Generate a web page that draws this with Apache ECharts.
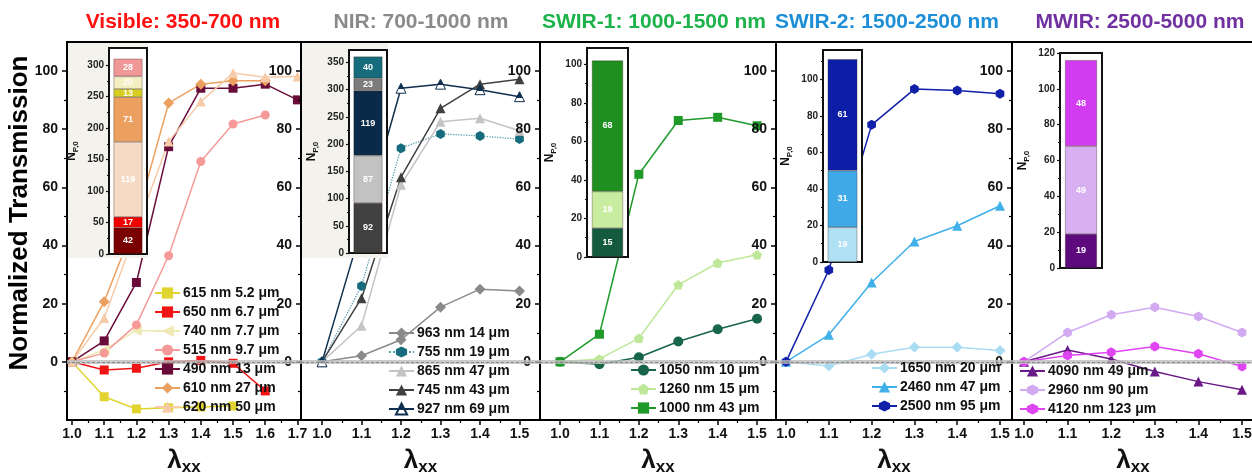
<!DOCTYPE html>
<html><head><meta charset="utf-8">
<script src="https://cdn.jsdelivr.net/npm/echarts@6/dist/echarts.min.js"></script>
<style>html,body{margin:0;padding:0;background:#fff}#c{width:1252px;height:473px}</style>
</head><body><div id="c"></div>
<script>
// ---------------- DATA ----------------
const lambdaVis = [1.0, 1.1, 1.2, 1.3, 1.4, 1.5, 1.6, 1.7];
const lambda = [1.0, 1.1, 1.2, 1.3, 1.4, 1.5];

// Visible
const vis615 = [0, -12, -16.2, -15.8, -15.5, -15.2, null, null];
const vis650 = [0, -2.8, -2.2, 0, 0.5, -0.5, -10, null];
const vis740 = [0, 4.1, 10.8, 10.4, null, null, null, null];
const vis515 = [0, 3, 12.7, 36.5, 68.9, 81.8, 84.9, null];
const vis490 = [0, 7.2, 27.3, 74, 94.1, 94.1, 95.5, 90.1];
const vis610 = [0, 20.7, 49, 89, 95.5, 96.7, 96.7, null];
const vis620 = [0, 15.1, 45.5, 75.8, 89.5, 99.3, 97.9, 98.1];
// NIR
const nir963 = [0, 2.1, 7.6, 18.8, 25, 24.4];
const nir755 = [0, 26.1, 73.5, 78.4, 77.7, 76.6];
const nir865 = [0, 12.4, 60.9, 82.6, 83.8, 79.5];
const nir745 = [0, 21.9, 63.5, 87.2, 95.5, 97.2];
const nir927 = [0, 46, 94.1, 95.5, 93.6, 91.2];
// SWIR-1
const sw1050 = [0, -0.8, 1.6, 7, 11.2, 14.8];
const sw1260 = [0, 1, 8.1, 26.5, 34, 36.8];
const sw1000 = [0, 9.5, 64.5, 83, 84.1, 81.2];
// SWIR-2
const sw1650 = [0, -1.4, 2.6, 5, 5, 3.9];
const sw2460 = [0, 9.3, 27.3, 41.4, 46.8, 53.7];
const sw2500 = [0, 31.6, 81.5, 93.8, 93.3, 92.2];
// MWIR
const mw4090 = [0, 4.1, 1, -3.3, -6.8, -9.6];
const mw2960 = [0, 10.1, 16.2, 18.8, 15.6, 10.1];
const mw4120 = [0, 2.2, 3.3, 5.3, 2.8, -1.6];

// inset stacked bars (N_P,0), bottom -> top
const insetVis = [42, 17, 119, 71, 13, 20, 28];
const insetNir = [92, 87, 119, 23, 40];
const insetSw1 = [15, 19, 68];
const insetSw2 = [19, 31, 61];
const insetMw = [19, 49, 48];

// tick labels
const xTicksVis = [1.0, 1.1, 1.2, 1.3, 1.4, 1.5, 1.6, 1.7];
const xMinorVis = [1.05, 1.15, 1.25, 1.35, 1.45, 1.55, 1.65];
const xTicks = [1.0, 1.1, 1.2, 1.3, 1.4, 1.5];
const xMinor = [1.05, 1.15, 1.25, 1.35, 1.45];
const yTicks = [0, 20, 40, 60, 80, 100];
const yMinor = [-10, 10, 30, 50, 70, 90];
const inTicksVis = [0, 50, 100, 150, 200, 250, 300];
const inMinorVis = [25, 75, 125, 175, 225, 275];
const inTicksNir = [0, 50, 100, 150, 200, 250, 300, 350];
const inMinorNir = [25, 75, 125, 175, 225, 275, 325];
const inTicks100 = [0, 20, 40, 60, 80, 100];
const inMinor100 = [10, 30, 50, 70, 90];
const inMinor110 = [10, 30, 50, 70, 90, 110];
const inTicks120 = [0, 20, 40, 60, 80, 100, 120];

const titles = ['Visible: 350-700 nm', 'NIR: 700-1000 nm', 'SWIR-1: 1000-1500 nm', 'SWIR-2: 1500-2500 nm', 'MWIR: 2500-5000 nm'];

// ---------------- STYLE / LAYOUT ----------------
const FONT = '"Liberation Sans", Arial, Helvetica, sans-serif';
const HEX = 'path://M0,-10 L8.66,-5 L8.66,5 L0,10 L-8.66,5 L-8.66,-5 Z';
const PENT = 'path://M0,-10 L9.51,-3.09 L5.88,8.09 L-5.88,8.09 L-9.51,-3.09 Z';
const LTRI = 'path://M-10,0 L8,-9 L8,9 Z';
const navyHalf = {type:'linear', x:0, y:0, x2:0, y2:1, colorStops:[
  {offset:0, color:'#0f2f4f'}, {offset:0.58, color:'#0f2f4f'},
  {offset:0.58, color:'#ffffff'}, {offset:1, color:'#ffffff'}]};

const panels = [
  { title: titles[0], tColor:'#ff1010', tX:183, left:67, width:234, xMin:0.9845, xMax:1.711,
    xMaj:xTicksVis, xMin2:xMinorVis, lam:lambdaVis, legend:{left:154, top:286},
    series:[
      {name:'615 nm 5.2 μm', d:vis615, c:'#e2d430', sym:'rect'},
      {name:'650 nm 6.7 μm', d:vis650, c:'#f01414', sym:'rect'},
      {name:'740 nm 7.7 μm', d:vis740, c:'#efe9b4', sym:LTRI, size:11},
      {name:'515 nm 9.7 μm', d:vis515, c:'#f59a98', sym:'circle'},
      {name:'490 nm 13 μm', d:vis490, c:'#6a0c3a', sym:'rect'},
      {name:'610 nm 27 μm', d:vis610, c:'#eca060', sym:'diamond', size:11},
      {name:'620 nm 50 μm', d:vis620, c:'#f5cba8', sym:'triangle', size:10}],
    inset:{left:109, top:48, width:38, height:206, max:327, maj:inTicksVis, min:inMinorVis, vals:insetVis,
      colors:['#7a0000','#f20000','#f7dac6','#eca060','#d8ce22','#f4efc2','#f09898']},
    beige:{x:68, y:43, w:80, h:215} },
  { title: titles[1], tColor:'#8a8a8a', tX:421, left:301, width:239, xMin:0.9468, xMax:1.5519,
    xMaj:xTicks, xMin2:xMinor, lam:lambda, legend:{left:388, top:326},
    series:[
      {name:'963 nm 14 μm', d:nir963, c:'#8a8a8a', sym:'diamond', size:11},
      {name:'755 nm 19 μm', d:nir755, c:'#166b7d', sym:HEX, size:10, line:{type:'dotted', color:'#5a9fb0', width:1.3}},
      {name:'865 nm 47 μm', d:nir865, c:'#c4c4c4', sym:'triangle', size:10},
      {name:'745 nm 43 μm', d:nir745, c:'#404040', sym:'triangle', size:10},
      {name:'927 nm 69 μm', d:nir927, c:navyHalf, lc:'#0f2f4f', sym:'triangle', size:10, border:'#0f2f4f'}],
    inset:{left:349, top:50, width:38, height:203, max:373, maj:inTicksNir, min:inMinorNir, vals:insetNir,
      colors:['#404040','#c2c2c2','#0a2a4a','#7c7c7c','#166b7d']},
    beige:{x:302, y:43, w:86, h:215} },
  { title: titles[2], tColor:'#1db34a', tX:654, left:540, width:236, xMin:0.9492, xMax:1.548,
    xMaj:xTicks, xMin2:xMinor, lam:lambda, legend:{left:630, top:363},
    series:[
      {name:'1050 nm 10 μm', d:sw1050, c:'#17654a', sym:'circle', size:10},
      {name:'1260 nm 15 μm', d:sw1260, c:'#bfe79a', sym:PENT, size:10},
      {name:'1000 nm 43 μm', d:sw1000, c:'#1f9a2a', sym:'rect'}],
    inset:{left:587, top:48, width:41, height:209, max:108.5, maj:inTicks100, min:inMinor100, vals:insetSw1,
      colors:['#145a3e','#c8eca0','#1f9020']} },
  { title: titles[3], tColor:'#1e8fd6', tX:887, left:776, width:236, xMin:0.9766, xMax:1.528,
    xMaj:xTicks, xMin2:xMinor, lam:lambda, legend:{left:871, top:361},
    series:[
      {name:'1650 nm 20 μm', d:sw1650, c:'#a9dcf2', sym:'diamond', size:11},
      {name:'2460 nm 47 μm', d:sw2460, c:'#3fb0ea', sym:'triangle', size:10},
      {name:'2500 nm 95 μm', d:sw2500, c:'#1020a8', sym:HEX, size:10}],
    inset:{left:823, top:50, width:39, height:212, max:116, maj:inTicks100, min:inMinor110, vals:insetSw2,
      colors:['#b0e0f4','#40aae8','#0c1ea8']} },
  { title: titles[4], tColor:'#7030a0', tX:1140, left:1012, width:242, xMin:0.9725, xMax:1.5275,
    xMaj:xTicks, xMin2:xMinor, lam:lambda, legend:{left:1019, top:364},
    series:[
      {name:'4090 nm 49 μm', d:mw4090, c:'#6a1a88', sym:'triangle', size:10},
      {name:'2960 nm 90 μm', d:mw2960, c:'#d2aaf2', sym:HEX, size:10},
      {name:'4120 nm 123 μm', d:mw4120, c:'#df45f2', sym:HEX, size:10}],
    inset:{left:1060, top:53, width:42, height:215, max:120, maj:inTicks120, min:inMinor110, vals:insetMw,
      colors:['#5c0a7c','#d8b0f2','#d23cf0']} }
];

// ---------------- BUILD ----------------
const grid = [], xAxis = [], yAxis = [], series = [], legend = [], graphic = [];

panels.forEach((p, pi) => {
  const gi = grid.length;
  grid.push({left:p.left, top:42, width:p.width, height:378, show:true, borderColor:'#000', borderWidth:2,
    containLabel:false, outerBoundsMode:'none', z:0});
  const xa = xAxis.length;
  xAxis.push({gridIndex:gi, type:'value', position:'bottom', min:p.xMin, max:p.xMax, z:3,
    axisLine:{show:true, onZero:false, lineStyle:{color:'#000', width:2}},
    axisTick:{show:true, customValues:p.xMaj, length:5, lineStyle:{color:'#000', width:1.5}},
    axisLabel:{customValues:p.xMaj, formatter:v => v.toFixed(1), color:'#111', fontSize:14, fontWeight:'bold', fontFamily:FONT, margin:7},
    splitLine:{show:false},
    name:'{l|λ}{s|xx}', nameLocation:'middle', nameGap:28,
    nameTextStyle:{color:'#111', fontFamily:FONT, rich:{
      l:{fontSize:26, fontWeight:'bold', fontFamily:FONT, color:'#111', verticalAlign:'bottom', padding:[0,0,2,0]},
      s:{fontSize:17, fontWeight:'bold', fontFamily:FONT, color:'#111', verticalAlign:'bottom'}}}});
  xAxis.push({gridIndex:gi, type:'value', position:'bottom', min:p.xMin, max:p.xMax, z:3,
    axisLine:{show:false, onZero:false}, axisLabel:{show:false}, splitLine:{show:false},
    axisTick:{show:true, customValues:p.xMin2, length:3, lineStyle:{color:'#000', width:1.2}}});
  const ya = yAxis.length;
  yAxis.push({gridIndex:gi, type:'value', position:'left', min:-20, max:110, z:3,
    axisLine:{show:true, onZero:false, lineStyle:{color:'#000', width:2}},
    axisTick:{show:true, customValues:yTicks, length:5, lineStyle:{color:'#000', width:1.5}},
    axisLabel:{customValues:yTicks, color:'#111', fontSize:14, fontWeight:'bold', fontFamily:FONT, margin:9},
    splitLine:{show:false}});
  yAxis.push({gridIndex:gi, type:'value', position:'left', min:-20, max:110, z:3,
    axisLine:{show:false, onZero:false}, axisLabel:{show:false}, splitLine:{show:false},
    axisTick:{show:true, customValues:yMinor, length:3, lineStyle:{color:'#000', width:1.2}}});

  p.series.forEach((s, si) => {
    const data = p.lam.map((x, j) => [x, s.d[j]]).filter(d => d[1] !== null);
    const ser = {type:'line', name:s.name, xAxisIndex:xa, yAxisIndex:ya, data:data, z:2,
      symbol:s.sym, symbolSize:s.size || 9, symbolKeepAspect:true,
      itemStyle:{color:s.c, borderColor:s.border || s.c, borderWidth:s.border ? 1 : 0},
      lineStyle:Object.assign({color:s.lc || s.c, width:1.5}, s.line || {}),
      emphasis:{disabled:true}};
    if (si === 0) {
      ser.markLine = {silent:true, symbol:['none','none'], label:{show:false}, animation:false,
        data:[
          {yAxis:0, lineStyle:{color:'#bdbdbd', width:4, type:'solid', opacity:0.8}},
          {yAxis:0, lineStyle:{color:'#808080', width:1, type:[3,2], opacity:0.85}}]};
    }
    series.push(ser);
  });

  legend.push({data:p.series.map(s => s.name), left:p.legend.left, top:p.legend.top, orient:'vertical',
    itemWidth:25, itemHeight:14, itemGap:5, padding:0, selectedMode:false, z:6,
    textStyle:{fontSize:14, fontWeight:'bold', color:'#111', fontFamily:FONT, padding:[0,0,0,-2]}});

  // inset
  const q = p.inset;
  const ig = grid.length;
  grid.push({left:q.left, top:q.top, width:q.width, height:q.height, show:true, backgroundColor:'#fff',
    borderColor:'#111', borderWidth:2, containLabel:false, outerBoundsMode:'none', z:4});
  const ix = xAxis.length;
  xAxis.push({gridIndex:ig, type:'category', data:[''], z:5, axisLine:{show:false}, axisTick:{show:false}, axisLabel:{show:false}, splitLine:{show:false}});
  const iy = yAxis.length;
  yAxis.push({gridIndex:ig, type:'value', position:'left', min:0, max:q.max, z:5,
    axisLine:{show:true, onZero:false, lineStyle:{color:'#111', width:1.5}},
    axisTick:{show:true, customValues:q.maj, length:3, lineStyle:{color:'#111', width:1.2}},
    axisLabel:{customValues:q.maj, color:'#222', fontSize:10, fontWeight:'bold', fontFamily:FONT, margin:5},
    splitLine:{show:false},
    name:'{n|N}{s|P,0}', nameLocation:'middle', nameRotate:90, nameGap:29,
    nameTextStyle:{rich:{
      n:{fontSize:12, fontWeight:'bold', fontFamily:FONT, color:'#111', verticalAlign:'bottom', padding:[0,0,2,0]},
      s:{fontSize:8, fontWeight:'bold', fontFamily:FONT, color:'#111', verticalAlign:'bottom'}}}});
  yAxis.push({gridIndex:ig, type:'value', position:'left', min:0, max:q.max, z:5,
    axisLine:{show:false, onZero:false}, axisLabel:{show:false}, splitLine:{show:false},
    axisTick:{show:true, customValues:q.min, length:2, lineStyle:{color:'#111', width:1}}});
  q.vals.forEach((v, k) => {
    series.push({type:'bar', name:'inset' + pi + '_' + k, stack:'inset' + pi, xAxisIndex:ix, yAxisIndex:iy,
      data:[v], barWidth:'76%', z:6,
      itemStyle:{color:q.colors[k], borderColor:'rgba(50,30,20,0.55)', borderWidth:0.6},
      label:{show:true, position:'inside', color:'#fff', fontSize:9, fontWeight:'bold', fontFamily:FONT, formatter:'{c}'},
      emphasis:{disabled:true}});
  });

  if (p.beige) {
    graphic.push({type:'rect', shape:{x:p.beige.x, y:p.beige.y, width:p.beige.w, height:p.beige.h},
      style:{fill:'#f4f2ed'}, z:3, silent:true});
  }
  graphic.push({type:'text', x:p.tX, y:22, z:10,
    style:{text:p.title, fill:p.tColor, fontSize:21, fontWeight:'bold', fontFamily:FONT, textAlign:'center', textVerticalAlign:'middle'}});
});

graphic.push({type:'text', x:20, y:213, rotation:Math.PI / 2, z:10,
  style:{text:'Normalized Transmission', fill:'#000', fontSize:26, fontWeight:'bold', fontFamily:FONT, textAlign:'center', textVerticalAlign:'middle'}});

const chart = echarts.init(document.getElementById('c'), null, {renderer:'canvas'});
chart.setOption({animation:false, backgroundColor:'#fff', grid, xAxis, yAxis, series, legend, graphic});
</script>
</body></html>
